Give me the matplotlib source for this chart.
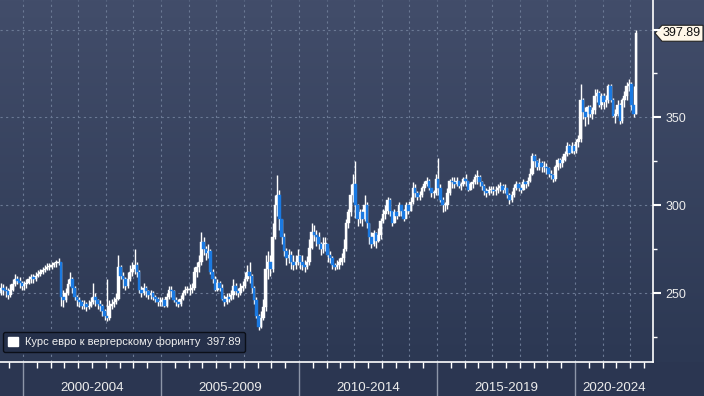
import numpy as np
import matplotlib.pyplot as plt
import matplotlib.transforms as mtransforms
from matplotlib.colors import LinearSegmentedColormap
from matplotlib.patches import Patch, Polygon

# MARK:- data (monthly EUR/HUF candles, Jan 1999 .. Mar 2022)
start_year = 1999
first_open = 250.0

close = [
    251, 250, 253, 252, 251, 249, 252, 255, 258, 257, 256, 254,  # 1999
    255, 256, 258, 259, 258, 260, 261, 262, 263, 264, 265, 265,  # 2000
    266, 267, 267, 268, 248, 246, 250, 255, 258, 253, 248, 246,  # 2001
    245, 243, 244, 242, 243, 245, 248, 246, 244, 243, 240, 237,  # 2002
    236, 243, 244, 245, 247, 265, 260, 258, 254, 258, 262, 264,  # 2003
    266, 262, 252, 250, 253, 251, 249, 250, 248, 247, 245, 245,  # 2004
    246, 243, 248, 252, 251, 246, 245, 244, 247, 250, 252, 252,  # 2005
    252, 253, 262, 265, 268, 279, 275, 273, 274, 262, 258, 252,  # 2006
    256, 253, 247, 245, 248, 247, 249, 254, 251, 250, 253, 254,  # 2007
    258, 262, 260, 253, 246, 237, 231, 236, 242, 264, 268, 264,  # 2008
    282, 300, 306, 292, 282, 274, 270, 272, 268, 266, 268, 271,  # 2009
    268, 266, 265, 268, 276, 285, 283, 282, 278, 275, 278, 278,  # 2010
    272, 270, 266, 265, 266, 268, 270, 275, 290, 296, 306, 312,  # 2011
    300, 292, 296, 292, 300, 290, 282, 278, 284, 280, 283, 291,  # 2012
    295, 297, 303, 297, 290, 296, 294, 300, 297, 292, 300, 297,  # 2013
    302, 310, 307, 305, 306, 310, 312, 314, 310, 307, 307, 315,  # 2014
    310, 303, 300, 300, 307, 314, 313, 312, 314, 311, 312, 315,  # 2015
    314, 309, 312, 313, 316, 316, 313, 311, 308, 307, 309, 309,  # 2016
    308, 309, 310, 311, 309, 310, 306, 303, 306, 310, 312, 310,  # 2017
    309, 313, 312, 314, 318, 328, 325, 322, 324, 322, 322, 321,  # 2018
    318, 317, 315, 322, 326, 324, 326, 329, 334, 330, 334, 331,  # 2019
    336, 338, 360, 353, 350, 356, 352, 354, 362, 364, 357, 362,  # 2020
    359, 360, 368, 360, 351, 352, 357, 348, 360, 362, 368, 369,  # 2021
    357, 352, 397.89,                                            # 2022
]

high = [
    254, 253, 256, 255, 254, 253, 255, 258, 261, 260, 259, 257,
    257, 258, 260, 261, 261, 262, 263, 264, 265, 266, 267, 267,
    268, 268, 269, 270, 268, 252, 253, 258, 262, 259, 254, 249,
    248, 246, 246, 245, 246, 248, 256, 250, 247, 246, 244, 241,
    258, 246, 247, 248, 250, 272, 266, 262, 259, 262, 266, 268,
    275, 268, 263, 254, 256, 254, 252, 252, 251, 249, 248, 248,
    248, 247, 250, 254, 254, 252, 248, 247, 249, 252, 254, 254,
    255, 256, 265, 268, 272, 285, 282, 277, 278, 275, 264, 260,
    258, 257, 255, 249, 250, 250, 252, 258, 256, 253, 256, 257,
    262, 266, 268, 261, 254, 248, 238, 240, 247, 272, 274, 272,
    290, 306, 317, 309, 292, 284, 276, 275, 274, 272, 272, 275,
    272, 272, 269, 271, 281, 290, 289, 286, 285, 279, 282, 282,
    276, 274, 271, 267, 269, 270, 273, 281, 292, 298, 312, 318,
    325, 301, 298, 298, 306, 302, 290, 285, 286, 285, 287, 293,
    298, 300, 305, 304, 297, 298, 297, 302, 300, 298, 302, 301,
    305, 313, 312, 308, 308, 311, 314, 316, 315, 310, 309, 318,
    327, 312, 305, 302, 310, 315, 316, 316, 316, 314, 313, 316,
    318, 314, 313, 315, 318, 320, 317, 314, 312, 310, 311, 311,
    311, 311, 312, 313, 312, 312, 310, 307, 308, 312, 314, 313,
    312, 315, 314, 316, 321, 330, 329, 326, 327, 325, 325, 324,
    322, 320, 318, 323, 327, 327, 328, 331, 336, 335, 336, 335,
    338, 340, 369, 361, 356, 357, 357, 356, 366, 366, 365, 364,
    364, 363, 369, 369, 361, 355, 360, 358, 361, 365, 370, 372,
    370, 368, 400,
]

low = [
    248, 248, 249, 249, 248, 247, 248, 251, 254, 255, 253, 252,
    252, 253, 255, 256, 256, 257, 259, 260, 261, 262, 263, 263,
    264, 265, 265, 266, 243, 242, 245, 249, 254, 250, 246, 243,
    242, 241, 241, 240, 241, 242, 244, 243, 241, 240, 237, 235,
    234, 235, 241, 242, 244, 246, 258, 253, 252, 253, 257, 260,
    261, 259, 250, 248, 249, 248, 247, 247, 246, 245, 243, 243,
    243, 242, 242, 247, 248, 245, 243, 242, 243, 246, 249, 250,
    249, 250, 252, 259, 262, 266, 272, 269, 270, 261, 256, 251,
    251, 251, 246, 243, 244, 245, 246, 247, 249, 248, 249, 251,
    253, 257, 256, 250, 244, 236, 229, 230, 235, 240, 258, 260,
    262, 281, 294, 286, 278, 271, 266, 267, 264, 263, 264, 266,
    264, 263, 262, 264, 266, 275, 280, 277, 275, 272, 273, 274,
    268, 267, 264, 263, 264, 264, 266, 268, 274, 287, 294, 302,
    293, 288, 290, 288, 291, 287, 278, 276, 277, 276, 279, 281,
    290, 292, 295, 294, 288, 290, 292, 294, 294, 291, 293, 295,
    297, 301, 305, 303, 303, 305, 308, 311, 309, 305, 304, 306,
    306, 302, 296, 297, 298, 306, 310, 310, 311, 310, 309, 311,
    311, 308, 309, 310, 312, 312, 311, 309, 306, 305, 306, 307,
    306, 306, 307, 308, 307, 307, 304, 301, 302, 305, 309, 308,
    307, 309, 310, 311, 313, 317, 322, 320, 320, 319, 319, 318,
    316, 315, 313, 314, 320, 321, 322, 325, 328, 329, 330, 329,
    330, 333, 336, 349, 345, 346, 350, 349, 352, 359, 356, 355,
    355, 356, 358, 359, 350, 347, 351, 346, 347, 356, 360, 365,
    354, 350, 352,
]

period_starts = [2000, 2005, 2010, 2015, 2020]
period_labels = ['2000-2004', '2005-2009', '2010-2014', '2015-2019', '2020-2024']
y_ticks = [250, 300, 350, 400]
y_tick_labels = ['250', '300', '350', '']
y_minor = [225, 275, 325, 375]
series_name = 'Курс евро к вергерскому форинту'
last_price = close[-1]

# MARK:- prepare candles
close = np.array(close, dtype=float)
high = np.array(high, dtype=float)
low = np.array(low, dtype=float)
opens = np.concatenate([[first_open], close[:-1]])
t = start_year + (np.arange(len(close)) + 0.5) / 12.0
up = close >= opens
body_bottom = np.minimum(opens, close)
body_height = np.maximum(np.abs(close - opens), 0.5)

x_left, x_right = 1999.167, 2022.826
y_bottom, y_top = 210.9, 416.8

W, H = 704, 396
fig = plt.figure(figsize=(W / 100, H / 100), dpi=100)
fig.patch.set_facecolor('#2b3651')

# gradient background behind plot + right label area
bg = fig.add_axes([0, 34 / H, 1, 362 / H], zorder=0)
cmap = LinearSegmentedColormap.from_list('bg', ['#2c3853', '#424d6a'])
bg.imshow(np.linspace(0, 1, 256).reshape(-1, 1), aspect='auto', cmap=cmap,
          origin='lower', extent=[0, 1, 0, 1])
bg.axis('off')

ax = fig.add_axes([0, 34 / H, 653 / W, 362 / H], zorder=1)
ax.patch.set_alpha(0)

grid_kw = dict(color='#6b7994', lw=0.8, linestyle=(0, (2, 3)), zorder=1)
for yr in range(2000, 2023):
    ax.axvline(yr, **grid_kw)
for yv in y_ticks:
    ax.axhline(yv, **grid_kw)

ax.vlines(t, low, high, color='white', lw=1.0, zorder=2)
# up candles: white; down candles: solid blue drawn on top of the wick
ax.bar(t[up], body_height[up], width=0.095, bottom=body_bottom[up],
       color='white', edgecolor='white', linewidth=0.3, zorder=3)
ax.bar(t[~up], body_height[~up], width=0.095, bottom=body_bottom[~up],
       color='#1b7ae2', edgecolor='#1b7ae2', linewidth=0.3, zorder=4)

ax.set_xlim(x_left, x_right)
ax.set_ylim(y_bottom, y_top)

for s in ['left', 'top']:
    ax.spines[s].set_visible(False)
for s in ['right', 'bottom']:
    ax.spines[s].set_color('white')
    ax.spines[s].set_linewidth(1.2)

# y axis on the right
ax.yaxis.tick_right()
ax.set_yticks(y_ticks)
ax.set_yticklabels(y_tick_labels, fontfamily=['Liberation Sans', 'DejaVu Sans'],
                   fontsize=9, color='#ececec')
ax.set_yticks(y_minor, minor=True)
ax.tick_params(axis='y', which='major', color='white', length=6, width=1.5, pad=3)
ax.tick_params(axis='y', which='minor', color='white', length=3, width=1)

# x axis: 5-year separators, half-year ticks
ax.set_xticks(period_starts)
ax.set_xticklabels([])
ax.set_xticks(np.arange(1999.5, 2022.6, 0.5), minor=True)
ax.tick_params(axis='x', which='major', color='#8d96a8', length=34, width=1)
ax.tick_params(axis='x', which='minor', color='white', length=4, width=1)

bounds = period_starts + [x_right]
for i, lab in enumerate(period_labels):
    cx = (bounds[i] + bounds[i + 1]) / 2
    ax.text(cx, -0.071, lab, transform=ax.get_xaxis_transform(), ha='center',
            va='center', color='#ececec', fontsize=9.6,
            family=['Liberation Sans', 'DejaVu Sans'])

# legend
handle = Patch(facecolor='white', edgecolor='white')
leg = ax.legend([handle], [f'{series_name}  {last_price:.2f}'], loc='lower left',
                bbox_to_anchor=(-0.004, 0.012), frameon=True, fancybox=True,
                facecolor='#25304a', edgecolor='#0b0f18', framealpha=1,
                labelcolor='#f0f0f0', handlelength=0.9,
                handleheight=0.9, borderpad=0.45, handletextpad=0.6,
                prop={'family': ['Liberation Sans', 'DejaVu Sans'], 'size': 8})
leg.get_frame().set_linewidth(1.0)

# last price tag
x0, y0 = ax.transData.transform((x_right, last_price))
ident = mtransforms.IdentityTransform()
tag = Polygon([(x0 + 2, y0), (x0 + 9, y0 + 8), (W - 1, y0 + 8),
               (W - 1, y0 - 8), (x0 + 9, y0 - 8)], closed=True,
              facecolor='#fff7e8', edgecolor='#222222', lw=0.8, transform=ident)
fig.add_artist(tag)
fig.text(x0 + 9.5, y0, f'{last_price:.2f}', transform=ident, ha='left', va='center',
         fontsize=9, color='#111111', family=['Liberation Sans', 'DejaVu Sans'])

fig.savefig('out.png', dpi=100, facecolor=fig.get_facecolor())
